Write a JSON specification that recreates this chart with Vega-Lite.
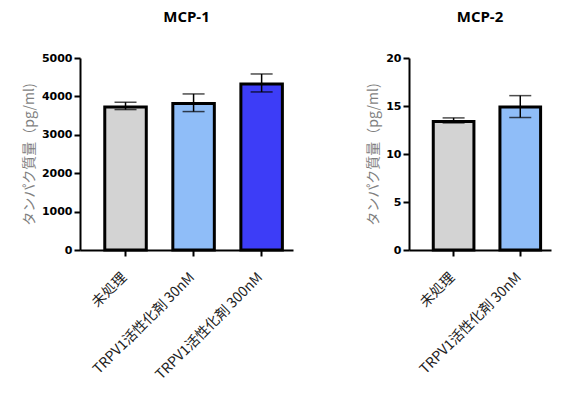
{
  "$schema": "https://vega.github.io/schema/vega-lite/v6.json",
  "padding": {"left": 22, "top": 10, "right": 5, "bottom": 5},
  "background": "white",
  "data": {"values": [
    {"panel": "MCP-1", "group": "未処理", "value": 3726, "lo": 3657, "hi": 3848},
    {"panel": "MCP-1", "group": "TRPV1活性化剤 30nM", "value": 3813, "lo": 3605, "hi": 4064},
    {"panel": "MCP-1", "group": "TRPV1活性化剤 300nM", "value": 4324, "lo": 4116, "hi": 4584},
    {"panel": "MCP-2", "group": "未処理", "value": 13.38, "lo": 13.24, "hi": 13.76},
    {"panel": "MCP-2", "group": "TRPV1活性化剤 30nM", "value": 14.9, "lo": 13.8, "hi": 16.08}
  ]},
  "config": {
    "view": {"stroke": null},
    "title": {"font": "Open Sans", "fontSize": 15, "fontWeight": "bold", "color": "black", "offset": 27},
    "axis": {"grid": false, "domainColor": "black", "domainWidth": 2, "tickColor": "black", "tickWidth": 2, "tickSize": 6},
    "axisY": {"titleFont": "Noto Sans CJK JP", "titleFontSize": 14, "titleFontWeight": "normal", "titleColor": "#7f7f7f", "titlePadding": 5, "labelFont": "DejaVu Sans", "labelFontSize": 11, "labelFontWeight": "bold", "labelColor": "black", "labelPadding": 2, "format": "d"},
    "axisX": {"title": null, "labelAngle": -45, "labelFont": "Noto Sans CJK JP", "labelFontSize": 14, "labelColor": "#222222", "labelPadding": 14, "labelOffset": -6}
  },
  "spacing": 73,
  "resolve": {"scale": {"x": "independent", "y": "independent"}},
  "hconcat": [
    {
      "title": "MCP-1",
      "width": 213,
      "height": 192,
      "transform": [{"filter": "datum.panel == 'MCP-1'"}],
      "encoding": {
        "x": {"field": "group", "type": "nominal", "sort": null, "title": null,
          "scale": {"paddingInner": 0.39, "paddingOuter": 0.26, "align": 0.7}}
      },
      "layer": [
        {"mark": {"type": "bar", "stroke": "black", "strokeWidth": 3},
         "encoding": {
           "y": {"field": "value", "type": "quantitative", "title": "タンパク質量（pg/ml)",
             "scale": {"domain": [0, 5000], "nice": false},
             "axis": {"values": [0, 1000, 2000, 3000, 4000, 5000]}},
           "color": {"field": "group", "type": "nominal", "legend": null,
             "scale": {"domain": ["未処理", "TRPV1活性化剤 30nM", "TRPV1活性化剤 300nM"], "range": ["#d3d3d3", "#8fbdf8", "#3d3df7"]}}
         }},
        {"mark": {"type": "errorbar", "ticks": {"size": 22, "thickness": 1.5, "color": "black"}, "rule": {"strokeWidth": 1.5, "color": "black"}},
         "encoding": {
           "y": {"field": "lo", "type": "quantitative", "title": "タンパク質量（pg/ml)", "axis": {"values": [0, 1000, 2000, 3000, 4000, 5000]}},
           "y2": {"field": "hi"}
         }}
      ]
    },
    {
      "title": "MCP-2",
      "width": 142,
      "height": 192,
      "transform": [{"filter": "datum.panel == 'MCP-2'"}],
      "encoding": {
        "x": {"field": "group", "type": "nominal", "sort": null, "title": null,
          "scale": {"paddingInner": 0.39, "paddingOuter": 0.26, "align": 0.7}}
      },
      "layer": [
        {"mark": {"type": "bar", "stroke": "black", "strokeWidth": 3},
         "encoding": {
           "y": {"field": "value", "type": "quantitative", "title": "タンパク質量（pg/ml)",
             "scale": {"domain": [0, 20], "nice": false},
             "axis": {"values": [0, 5, 10, 15, 20]}},
           "color": {"field": "group", "type": "nominal", "legend": null}
         }},
        {"mark": {"type": "errorbar", "ticks": {"size": 22, "thickness": 1.5, "color": "black"}, "rule": {"strokeWidth": 1.5, "color": "black"}},
         "encoding": {
           "y": {"field": "lo", "type": "quantitative", "title": "タンパク質量（pg/ml)", "axis": {"values": [0, 5, 10, 15, 20]}},
           "y2": {"field": "hi"}
         }}
      ]
    }
  ]
}
